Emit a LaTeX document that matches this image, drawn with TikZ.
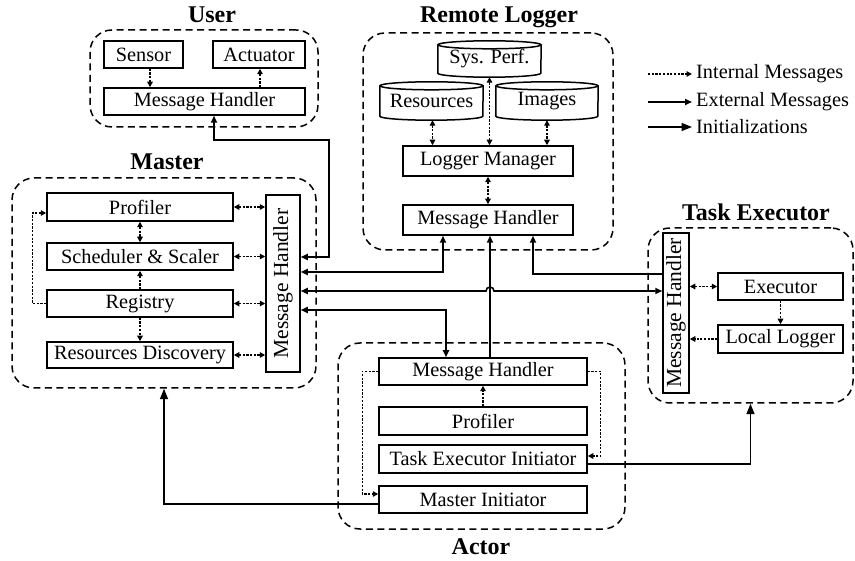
\documentclass[tikz,border=0pt]{standalone}
\usepackage{fontspec}
\setmainfont{Liberation Serif}
\usepackage{graphicx}
\usetikzlibrary{arrows.meta}
\tikzset{
  box/.style={draw, line width=1.5pt, inner sep=0pt, font=\fontsize{20.3}{24}\selectfont},
  cyl/.style={inner sep=0pt, font=\fontsize{20.3}{24}\selectfont},
  vbox/.style={draw, line width=1.5pt, inner sep=0pt, font=\fontsize{21.5}{24}\selectfont},
  group/.style={draw, line width=1.5pt, dash pattern=on 7pt off 4.5pt, rounded corners=22pt, inner sep=0pt},
  title/.style={inner sep=0pt, font=\fontsize{24}{28}\selectfont\bfseries},
  legtext/.style={inner sep=0pt, anchor=west, font=\fontsize{20.3}{24}\selectfont},
  itip/.tip={Triangle[length=5.5pt,width=5.5pt]},
  etip/.tip={Triangle[length=7pt,width=6pt]},
  ntip/.tip={Triangle[length=10.5pt,width=8pt]},
  int/.style={line width=1.3pt, dash pattern=on 2.2pt off 1.5pt, -itip},
  intb/.style={line width=1.3pt, dash pattern=on 2.2pt off 1.5pt, itip-itip},
  ext/.style={line width=1.6pt, -etip},
  extb/.style={line width=1.6pt, etip-etip},
  init/.style={line width=1.6pt, -ntip},
  cylline/.style={line width=1.5pt}
}
\begin{document}
\begin{tikzpicture}[x=1pt,y=-1pt]
\useasboundingbox[fill=white] (0,0) rectangle (855,561);

% ---------- groups ----------
\node[group, minimum width=228pt, minimum height=97pt] (Us) at (204,78.5) {};
\node[group, minimum width=304pt, minimum height=210pt] (Ma) at (164,283) {};
\node[group, minimum width=250pt, minimum height=217pt] (RL) at (488,141.5) {};
\node[group, minimum width=205pt, minimum height=175pt] (TE) at (750.5,315.5) {};
\node[group, minimum width=287pt, minimum height=186pt] (Ac) at (481.5,436) {};

\node[title] (tUs) at (212,15) {User};
\node[title] (tMa) at (167,162) {Master};
\node[title] (tRL) at (499,17) {Remote Logger};
\node[title] (tTE) at (756,212) {Task Executor};
\node[title] (tAc) at (481,547) {Actor};

% ---------- User ----------
\node[box, minimum width=79pt, minimum height=27pt] (Sensor) at (143.5,54.5) {Sensor};
\node[box, minimum width=92pt, minimum height=27pt] (Actuator) at (259,54.5) {Actuator};
\node[box, minimum width=201pt, minimum height=27pt] (uMH) at (204.5,101.5) {Message Handler};

% ---------- Master ----------
\node[box, minimum width=186pt, minimum height=28pt] (Prof) at (140,207) {Profiler};
\node[box, minimum width=186pt, minimum height=27pt] (Sched) at (140,256.5) {Scheduler \& Scaler};
\node[box, minimum width=186pt, minimum height=27pt] (Reg) at (140,303.5) {Registry};
\node[box, minimum width=186pt, minimum height=26pt] (RD) at (140,355) {Resources Discovery};
\node[vbox, minimum width=34pt, minimum height=177pt] (mMH) at (283,283.5) {\rotatebox{90}{Message Handler}};

% ---------- Remote Logger ----------
\node[cyl, minimum width=103pt, minimum height=28pt] (SP) at (489.5,59) {Sys. Perf.};
\node[cyl, minimum width=103pt, minimum height=30pt] (Res) at (431.5,101) {Resources};
\node[cyl, minimum width=102pt, minimum height=30pt] (Img) at (547,101) {Images};
\foreach \c/\r in {SP/51.5pt,Res/51.5pt,Img/51pt}{
  \draw[cylline] (\c.north west) -- (\c.south west)
     arc[start angle=180,end angle=360,x radius=\r,y radius=4pt] -- (\c.north east);
  \draw[cylline] (\c.north) ellipse[x radius=\r,y radius=4pt];
}
\node[box, minimum width=170pt, minimum height=30pt] (LM) at (488,161) {Logger Manager};
\node[box, minimum width=170pt, minimum height=30pt] (rMH) at (488,220) {Message Handler};

% ---------- Task Executor ----------
\node[vbox, minimum width=26pt, minimum height=160pt] (tMH) at (676,313) {\rotatebox{90}{Message Handler}};
\node[box, minimum width=125pt, minimum height=27pt] (Exec) at (780.5,286.5) {Executor};
\node[box, minimum width=125pt, minimum height=28pt] (LL) at (780.5,339) {Local Logger};

% ---------- Actor ----------
\node[box, minimum width=208pt, minimum height=27pt] (aMH) at (483,371.5) {Message Handler};
\node[box, minimum width=208pt, minimum height=28pt] (aProf) at (483,421) {Profiler};
\node[box, minimum width=208pt, minimum height=28pt] (TEI) at (483,459) {Task Executor Initiator};
\node[box, minimum width=208pt, minimum height=27pt] (MI) at (483,499.5) {Master Initiator};

% ---------- internal messages ----------
\draw[int] ([xshift=6.5pt]Sensor.south) -- ([xshift=6.5pt]Sensor.south |- uMH.north);
\draw[int] ([xshift=1pt]Actuator.south |- uMH.north) -- ([xshift=1pt]Actuator.south);

\draw[intb] (Prof.east) -- (Prof.east -| mMH.west);
\draw[intb] (Sched.east) -- (Sched.east -| mMH.west);
\draw[intb] (Reg.east) -- (Reg.east -| mMH.west);
\draw[intb] (RD.east) -- (RD.east -| mMH.west);
\draw[intb] (Prof.south) -- (Sched.north);
\draw[int] (Reg.north) -- (Sched.south);
\draw[int] (Reg.south) -- (RD.north);
\draw[int] (Reg.west) -- ++(-14,0) |- ([yshift=-6pt]Prof.west);

\draw[intb] ([xshift=1pt,yshift=-4pt]Res.south) -- ([xshift=1pt]Res.south |- LM.north);
\draw[intb] ([yshift=-4pt]SP.south) -- (SP.south |- LM.north);
\draw[intb] ([yshift=-4pt]Img.south) -- (Img.south |- LM.north);
\draw[intb] (LM.south) -- (rMH.north);

\draw[intb] (Exec.west -| tMH.east) -- (Exec.west);
\draw[int] (Exec.south) -- (LL.north);
\draw[int] (LL.west) -- (LL.west -| tMH.east);

\draw[int] (aProf.north) -- (aMH.south);
\draw[int] (aMH.west) -- ++(-16,0) |- ([yshift=5.5pt]MI.west);
\draw[int] (aMH.east) -- ++(13,0) |- ([yshift=3pt]TEI.east);

% ---------- external messages ----------
\draw[extb] ([xshift=9.5pt]uMH.south) |- (329,140) |- ([yshift=26.5pt]mMH.east);
\draw[extb] ([xshift=-45pt]rMH.south) |- ([yshift=11.5pt]mMH.east);
\draw[extb] ([yshift=-7.5pt]mMH.east) -- (486,291) arc[start angle=180,end angle=0,radius=4pt] -- ([yshift=22pt]tMH.west);
\draw[extb] ([yshift=-26.5pt]mMH.east) -| ([xshift=-37pt]aMH.north);
\draw[ext] ([xshift=7pt]aMH.north) -- ([xshift=2pt]rMH.south);
\draw[ext] ([yshift=39pt]tMH.west) -| ([xshift=45pt]rMH.south);

% ---------- initializations ----------
\draw[init] ([yshift=-5pt]TEI.east) -| (TE.south);
\draw[init] ([yshift=-4.5pt]MI.west) -| (Ma.south);

% ---------- legend ----------
\coordinate (l1a) at (648,74);  \coordinate (l1b) at (692,74);
\coordinate (l2a) at (648,102); \coordinate (l2b) at (692,102);
\coordinate (l3a) at (648,127); \coordinate (l3b) at (692,127);
\draw[int] (l1a) -- (l1b);
\draw[ext] (l2a) -- (l2b);
\draw[init] (l3a) -- (l3b);
\node[legtext] (lt1) at (696,74) {Internal Messages};
\node[legtext] (lt2) at (696,102) {External Messages};
\node[legtext] (lt3) at (696,127) {Initializations};
\end{tikzpicture}
\end{document}
